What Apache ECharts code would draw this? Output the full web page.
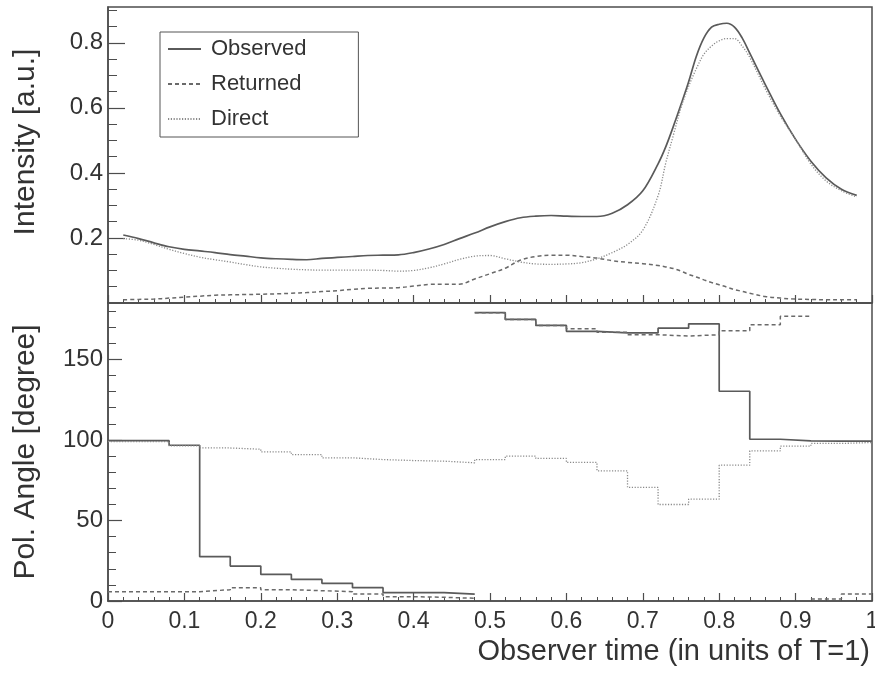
<!DOCTYPE html>
<html><head><meta charset="utf-8">
<script src="https://cdn.jsdelivr.net/npm/echarts@6/dist/echarts.min.js"></script>
<style>html,body{margin:0;padding:0;background:#fff}#c{width:875px;height:675px}</style>
</head><body><div id="c"></div>
<script>
// ---- Top panel: intensity curves ----
const timeGrid = [0.02,0.04,0.06,0.08,0.10,0.12,0.14,0.16,0.18,0.20,0.22,0.24,0.26,0.28,0.30,0.32,0.34,0.36,0.38,0.40,0.42,0.44,0.46,0.48,0.50,0.52,0.54,0.56,0.58,0.60,0.62,0.64,0.66,0.68,0.70,0.72,0.73,0.74,0.75,0.76,0.77,0.78,0.79,0.80,0.81,0.82,0.83,0.84,0.86,0.88,0.90,0.92,0.94,0.96,0.98];
const observedIntensity = [0.209,0.198,0.185,0.173,0.165,0.160,0.155,0.149,0.144,0.139,0.136,0.134,0.133,0.137,0.140,0.143,0.146,0.147,0.148,0.155,0.166,0.180,0.198,0.215,0.234,0.250,0.262,0.267,0.269,0.267,0.266,0.266,0.276,0.302,0.345,0.428,0.48,0.543,0.61,0.68,0.758,0.815,0.848,0.857,0.860,0.848,0.815,0.768,0.673,0.582,0.503,0.436,0.385,0.350,0.331];
const returnedIntensity = [0.010,0.011,0.012,0.015,0.018,0.021,0.024,0.025,0.026,0.027,0.028,0.030,0.032,0.035,0.038,0.042,0.045,0.046,0.047,0.052,0.057,0.058,0.058,0.074,0.090,0.107,0.132,0.143,0.147,0.147,0.143,0.138,0.130,0.125,0.121,0.115,0.111,0.106,0.098,0.088,0.080,0.071,0.063,0.056,0.049,0.041,0.036,0.030,0.020,0.015,0.012,0.011,0.010,0.010,0.010];
const directIntensity = [0.198,0.193,0.180,0.165,0.152,0.141,0.133,0.126,0.118,0.111,0.107,0.104,0.102,0.101,0.101,0.101,0.101,0.100,0.098,0.100,0.108,0.120,0.134,0.144,0.146,0.136,0.126,0.120,0.119,0.120,0.124,0.136,0.155,0.180,0.224,0.33,0.43,0.516,0.60,0.666,0.72,0.765,0.790,0.806,0.813,0.813,0.790,0.755,0.660,0.575,0.503,0.427,0.375,0.345,0.326];

// ---- Bottom panel: polarisation angle histograms (bin width 0.04) ----
const binEdges = [0,0.04,0.08,0.12,0.16,0.20,0.24,0.28,0.32,0.36,0.40,0.44,0.48,0.52,0.56,0.60,0.64,0.68,0.72,0.76,0.80,0.84,0.88,0.92,0.96,1.00];
const observedAngle = [99.5,99.5,96.7,27.5,21.7,16.5,13.4,11.0,8.3,5.2,5.2,4.3,179,174.8,171.1,167.4,166.4,166.4,169.4,172.1,130.2,100.4,99.4,99.2,99.2];
const returnedAngle = [5.8,5.8,5.8,7.0,8.3,7.0,6.4,5.8,4.3,2.7,2.3,1.7,179,174.8,171.1,169.0,166.8,165.3,164.5,165.3,167.8,171.5,176.7,1.2,4.3];
const directAngle = [99.0,99.0,96.3,95.0,94.2,92.6,90.9,88.9,87.8,87.2,86.8,85.8,87.8,89.9,88.5,86.0,80.8,70.5,59.9,63.2,84.3,93.2,96.1,97.8,98.4];
// bin indices where a new (unconnected) segment begins (angle wrap-around)
const observedAngleBreaks = [12];
const returnedAngleBreaks = [12,23];
const directAngleBreaks = [];

// ---- Ticks ----
const intensityTicks = [0.2,0.4,0.6,0.8];
const intensityMinorTicks = [0.05,0.1,0.15,0.25,0.3,0.35,0.45,0.5,0.55,0.65,0.7,0.75,0.85,0.9];
const angleTicks = [0,50,100,150];
const angleMinorTicks = [10,20,30,40,60,70,80,90,110,120,130,140,160,170,180];

const AX = '#4d4d4d', TXT = '#333';
const FONT = 'Liberation Sans, Arial, Helvetica, sans-serif';

function curve(xs, ys){ return xs.map((x,i)=>[x, ys[i]]); }
function hist(edges, vals, breaks){
  const pts = [];
  vals.forEach((v,i)=>{
    if (breaks.indexOf(i) >= 0) pts.push([edges[i], null]);
    pts.push([edges[i], v], [edges[i+1], v]);
  });
  return pts;
}

const styles = {
  Observed: {color:'#5a5a5a', width:1.7, type:'solid'},
  Returned: {color:'#6a6a6a', width:1.5, type:[4,3]},
  Direct:   {color:'#8a8a8a', width:1.3, type:[1.2,1.6]}
};
function lineSeries(name, data, xi, yi, smooth){
  const s = styles[name];
  return {name, type:'line', xAxisIndex:xi, yAxisIndex:yi, data, symbol:'none', showSymbol:false,
    smooth: smooth ? 0.35 : false, connectNulls:false, clip:true,
    lineStyle:{color:s.color, width:s.width, type:s.type}, itemStyle:{color:s.color}};
}

function xAxisCfg(gi, labels){
  return {type:'value', gridIndex:gi, min:0, max:1, interval:0.1,
    axisLine:{show:true, lineStyle:{color:AX, width:1.5}},
    axisTick:{show:true, inside:true, length:8, lineStyle:{color:AX, width:1.2}},
    minorTick:{show:true, splitNumber:5, length:4, lineStyle:{color:AX, width:1}},
    splitLine:{show:false}, minorSplitLine:{show:false},
    axisLabel:{show:labels, fontSize:23, fontFamily:FONT, color:TXT, margin:9,
      formatter: v => (v===0||v===1) ? String(v) : v.toFixed(1)}
  };
}
function yAxisCfg(gi, min, max, ticks, len, fmt, name, pad){
  return {type:'value', gridIndex:gi, position:'left', min, max,
    axisLine:{show:true, lineStyle:{color:AX, width:1.5}},
    axisTick:{show:true, inside:true, length:len, customValues:ticks, lineStyle:{color:AX, width:1.2}},
    axisLabel:{show:true, customValues:ticks, fontSize:24, fontFamily:FONT, color:TXT, margin:5, formatter:fmt},
    splitLine:{show:false},
    name, nameLocation:'middle', nameGap:67,
    nameTextStyle:{fontSize:30, fontFamily:FONT, color:TXT, padding:pad}
  };
}
function yMinorCfg(gi, min, max, ticks, len){
  return {type:'value', gridIndex:gi, position:'left', offset:0, min, max,
    axisLine:{show:false}, axisLabel:{show:false}, splitLine:{show:false},
    axisTick:{show:true, inside:true, length:len, customValues:ticks, lineStyle:{color:AX, width:1}}};
}

const chart = echarts.init(document.getElementById('c'), null, {renderer:'canvas'});
const xb = xAxisCfg(1, true);
xb.name = 'Observer time (in units of T=1)';
xb.nameLocation = 'end';
xb.nameGap = -2;
xb.nameTextStyle = {fontSize:29, fontFamily:FONT, color:TXT, align:'right', verticalAlign:'top', padding:[36,0,0,0]};

chart.setOption({
  animation:false,
  backgroundColor:'#fff',
  grid:[
    {left:108, right:3, top:7, height:296, show:true, borderColor:AX, borderWidth:1.5, backgroundColor:'transparent', outerBoundsMode:'none', containLabel:false},
    {left:108, right:3, top:303, height:298, show:true, borderColor:AX, borderWidth:1.5, backgroundColor:'transparent', outerBoundsMode:'none', containLabel:false}
  ],
  legend:{
    data:['Observed','Returned','Direct'], orient:'vertical', left:160, top:32,
    itemWidth:33, itemHeight:14, itemGap:13,
    padding:[6,52,7,7], borderColor:'#555', borderWidth:1, backgroundColor:'#fff',
    itemStyle:{opacity:0, color:'transparent', borderWidth:0},
    textStyle:{fontSize:22, fontFamily:FONT, color:TXT, padding:[0,0,0,5]}, selectedMode:false
  },
  xAxis:[xAxisCfg(0, false), xb],
  yAxis:[
    yAxisCfg(0, 0, 0.91, intensityTicks, 17, v => Number(v).toFixed(1), 'Intensity [a.u.]', [0,0,0,26]),
    yMinorCfg(0, 0, 0.91, intensityMinorTicks, 9),
    yAxisCfg(1, 0, 185, angleTicks, 14, v => String(v), 'Pol. Angle [degree]', [0,0,0,0]),
    yMinorCfg(1, 0, 185, angleMinorTicks, 8)
  ],
  series:[
    lineSeries('Observed', curve(timeGrid, observedIntensity), 0, 0, true),
    lineSeries('Returned', curve(timeGrid, returnedIntensity), 0, 0, true),
    lineSeries('Direct', curve(timeGrid, directIntensity), 0, 0, true),
    lineSeries('Observed', hist(binEdges, observedAngle, observedAngleBreaks), 1, 2, false),
    lineSeries('Returned', hist(binEdges, returnedAngle, returnedAngleBreaks), 1, 2, false),
    lineSeries('Direct', hist(binEdges, directAngle, directAngleBreaks), 1, 2, false)
  ]
});
</script></body></html>
